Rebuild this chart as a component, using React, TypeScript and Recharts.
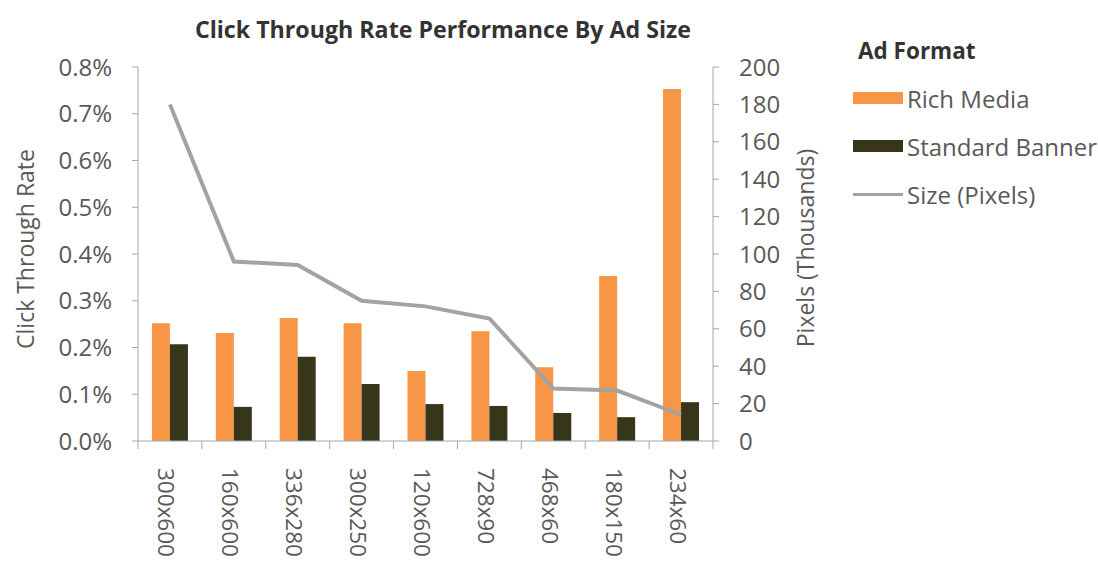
import React from 'react';
import { ComposedChart, Bar, Line, XAxis, YAxis, Legend } from 'recharts';

// values
const categories = ['300x600', '160x600', '336x280', '300x250', '120x600', '728x90', '468x60', '180x150', '234x60'];
const richMedia = [0.252, 0.231, 0.263, 0.252, 0.15, 0.235, 0.158, 0.353, 0.753];
const standardBanner = [0.207, 0.073, 0.18, 0.122, 0.079, 0.075, 0.06, 0.051, 0.083];
const sizePixels = [180, 96, 94.08, 75, 72, 65.52, 28.08, 27, 14.04];
const ctrTicks = [0, 0.1, 0.2, 0.3, 0.4, 0.5, 0.6, 0.7, 0.8];
const pixelTicks = [0, 20, 40, 60, 80, 100, 120, 140, 160, 180, 200];
const legendOrder = ['Rich Media', 'Standard Banner', 'Size (Pixels)'];

const data = categories.map((name, i) => ({
  name,
  rich: richMedia[i],
  standard: standardBanner[i],
  size: sizePixels[i],
}));

const FONT = '"Open Sans", sans-serif';
const TEXT = '#595959';
const AXIS = '#A6A6A6';
const ORANGE = '#F79646';
const DARK = '#37361A';
const GREY = '#A3A3A3';

const W = 1098;
const H = 562;
const LEFT_W = 138;
const RIGHT_W = 120;
const RIGHT_M = 265;
const BAND = (W - LEFT_W - RIGHT_W - RIGHT_M) / categories.length;

const CategoryTick = (props: any) => {
  const { x, y, payload, index } = props;
  const ty = y + 27;
  const tx = x - 3;
  return (
    <g>
      <line x1={x - BAND / 2} y1={y} x2={x - BAND / 2} y2={y + 8} stroke={AXIS} />
      {index === categories.length - 1 && (
        <line x1={x + BAND / 2} y1={y} x2={x + BAND / 2} y2={y + 8} stroke={AXIS} />
      )}
      <text
        x={tx}
        y={ty}
        transform={`rotate(90, ${tx}, ${ty})`}
        dominantBaseline="central"
        textAnchor="start"
        fill={TEXT}
        fontSize={22.5}
        fontFamily={FONT}
      >
        {payload.value}
      </text>
    </g>
  );
};

const leftLabel = () => {
  const cx = 25;
  const cy = 249;
  return (
    <text x={cx} y={cy} transform={`rotate(-90, ${cx}, ${cy})`} textAnchor="middle" dominantBaseline="central"
      fill={TEXT} fontSize={23} fontFamily={FONT}>
      Click Through Rate
    </text>
  );
};

const rightLabel = () => {
  const cx = 805;
  const cy = 248;
  return (
    <text x={cx} y={cy} transform={`rotate(-90, ${cx}, ${cy})`} textAnchor="middle" dominantBaseline="central"
      fill={TEXT} fontSize={23} fontFamily={FONT}>
      Pixels (Thousands)
    </text>
  );
};

const LegendBox = (props: any) => {
  const items = [...(props.payload || [])].sort(
    (a: any, b: any) => legendOrder.indexOf(a.value) - legendOrder.indexOf(b.value)
  );
  return (
    <div style={{ fontFamily: FONT }}>
      <div style={{ fontWeight: 700, fontSize: 22.5, color: '#333', height: 46, marginLeft: 5, lineHeight: '46px' }}>Ad Format</div>
      {items.map((it: any) => (
        <div key={it.value} style={{ display: 'flex', alignItems: 'center', height: 48 }}>
          {it.type === 'line' ? (
            <div style={{ width: 50, height: 3, background: it.color }} />
          ) : (
            <div style={{ width: 50, height: 12, background: it.color }} />
          )}
          <span style={{ fontSize: 24, color: TEXT, marginLeft: 4, whiteSpace: 'nowrap' }}>{it.value}</span>
        </div>
      ))}
    </div>
  );
};

export default function App() {
  return (
    <div style={{ position: 'absolute', left: 0, top: 0, width: W, height: H, background: '#fff', overflow: 'hidden' }}>
      <div
        style={{
          position: 'absolute', left: 0, top: 14, width: 886, textAlign: 'center',
          fontFamily: FONT, fontWeight: 700, fontSize: 23.2, color: '#333', lineHeight: '30px',
        }}
      >
        Click Through Rate Performance By Ad Size
      </div>
      <ComposedChart
        width={W}
        height={H}
        data={data}
        margin={{ top: 67, right: RIGHT_M, bottom: 0, left: 0 }}
        barCategoryGap="21.8%"
        barGap={0}
      >
        <XAxis
          dataKey="name"
          height={121}
          axisLine={{ stroke: AXIS }}
          tickLine={false}
          tickSize={0}
          tickMargin={0}
          interval={0}
          tick={<CategoryTick />}
        />
        <YAxis
          yAxisId="left"
          width={LEFT_W}
          domain={[0, 0.8]}
          ticks={ctrTicks}
          tickFormatter={(v: number) => v.toFixed(1) + '%'}
          axisLine={{ stroke: AXIS }}
          tickLine={{ stroke: AXIS }}
          tickSize={6}
          tickMargin={20}
          tick={{ fill: TEXT, fontSize: 24, fontFamily: FONT }}
          label={leftLabel}
        />
        <YAxis
          yAxisId="right"
          orientation="right"
          width={RIGHT_W}
          domain={[0, 200]}
          ticks={pixelTicks}
          axisLine={{ stroke: AXIS }}
          tickLine={{ stroke: AXIS }}
          tickSize={6}
          tickMargin={20}
          tick={{ fill: TEXT, fontSize: 24, fontFamily: FONT }}
          label={rightLabel}
        />
        <Legend
          layout="horizontal"
          verticalAlign="middle"
          align="center"
          content={<LegendBox />}
          wrapperStyle={{ top: 28, left: 853, width: 245, height: 210 }}
        />
        <Bar yAxisId="left" dataKey="rich" name="Rich Media" fill={ORANGE} isAnimationActive={false} />
        <Bar yAxisId="left" dataKey="standard" name="Standard Banner" fill={DARK} isAnimationActive={false} />
        <Line
          yAxisId="right"
          type="linear"
          dataKey="size"
          name="Size (Pixels)"
          stroke={GREY}
          strokeWidth={4}
          dot={false}
          isAnimationActive={false}
          legendType="line"
        />
      </ComposedChart>
    </div>
  );
}
